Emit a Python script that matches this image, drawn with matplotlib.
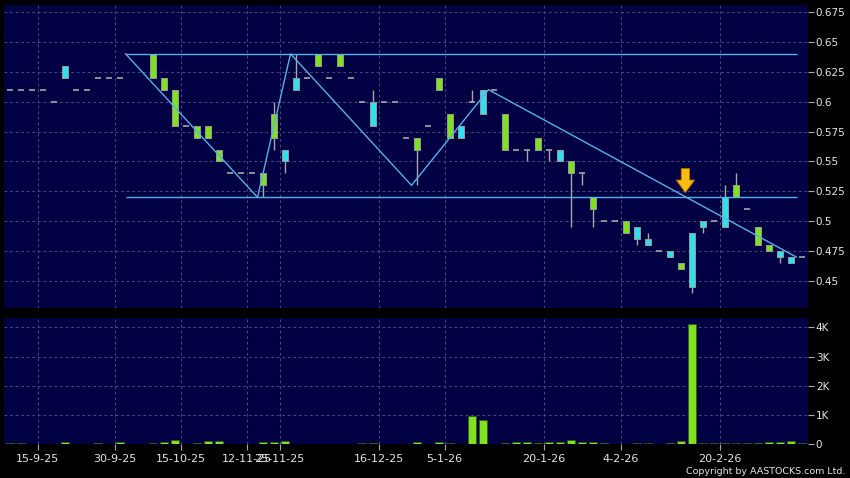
import matplotlib
matplotlib.use("Agg")
import matplotlib.pyplot as plt
import numpy as np

# ---------------- data ----------------
N = None
opens = [0.61, 0.61, 0.61, 0.61, 0.60, 0.63, 0.61, 0.61, 0.62, 0.62,
         0.62, N, N, 0.62, 0.61, 0.58, 0.58, 0.57, 0.57, 0.55,
         0.54, 0.54, 0.54, 0.53, 0.57, 0.56, 0.62, 0.62, 0.63, 0.62,
         0.63, 0.62, 0.60, 0.60, 0.60, 0.60, 0.57, 0.56, 0.58, 0.61,
         0.57, 0.58, 0.60, 0.61, 0.61, 0.56, 0.56, 0.56, 0.56, 0.56,
         0.56, 0.54, 0.54, 0.51, 0.50, 0.50, 0.49, 0.495, 0.485, 0.475,
         0.475, 0.46, 0.49, 0.50, 0.50, 0.52, 0.52, 0.51, 0.48, 0.475,
         0.475, 0.47, 0.47]
closes = [0.61, 0.61, 0.61, 0.61, 0.60, 0.62, 0.61, 0.61, 0.62, 0.62,
          0.62, N, N, 0.64, 0.62, 0.61, 0.58, 0.58, 0.58, 0.56,
          0.54, 0.54, 0.54, 0.54, 0.59, 0.55, 0.61, 0.62, 0.64, 0.62,
          0.64, 0.62, 0.60, 0.58, 0.60, 0.60, 0.57, 0.57, 0.58, 0.62,
          0.59, 0.57, 0.60, 0.59, 0.61, 0.59, 0.56, 0.56, 0.57, 0.56,
          0.55, 0.55, 0.54, 0.52, 0.50, 0.50, 0.50, 0.485, 0.48, 0.475,
          0.47, 0.465, 0.445, 0.495, 0.50, 0.495, 0.53, 0.51, 0.495, 0.48,
          0.47, 0.465, 0.47]
highs = [0.61, 0.61, 0.61, 0.61, 0.60, 0.63, 0.61, 0.61, 0.62, 0.62,
         0.62, N, N, 0.64, 0.62, 0.61, 0.58, 0.58, 0.58, 0.56,
         0.54, 0.54, 0.54, 0.54, 0.60, 0.56, 0.64, 0.62, 0.64, 0.62,
         0.64, 0.62, 0.60, 0.61, 0.60, 0.60, 0.57, 0.57, 0.58, 0.62,
         0.59, 0.58, 0.61, 0.61, 0.61, 0.59, 0.56, 0.56, 0.57, 0.56,
         0.56, 0.55, 0.54, 0.52, 0.50, 0.50, 0.50, 0.495, 0.49, 0.475,
         0.475, 0.465, 0.49, 0.50, 0.50, 0.53, 0.54, 0.51, 0.495, 0.48,
         0.475, 0.47, 0.47]
lows = [0.61, 0.61, 0.61, 0.61, 0.60, 0.62, 0.61, 0.61, 0.62, 0.62,
        0.62, N, N, 0.62, 0.61, 0.58, 0.58, 0.57, 0.57, 0.55,
        0.54, 0.54, 0.54, 0.52, 0.56, 0.54, 0.61, 0.62, 0.63, 0.62,
        0.63, 0.62, 0.60, 0.58, 0.60, 0.60, 0.57, 0.53, 0.58, 0.61,
        0.57, 0.57, 0.60, 0.59, 0.61, 0.56, 0.56, 0.55, 0.56, 0.55,
        0.55, 0.495, 0.53, 0.495, 0.50, 0.50, 0.49, 0.48, 0.48, 0.475,
        0.47, 0.46, 0.44, 0.49, 0.50, 0.495, 0.52, 0.51, 0.48, 0.475,
        0.465, 0.465, 0.47]
volumes = [30, 30, 10, 10, 10, 75, 10, 10, 45, 10,
           60, N, N, 30, 80, 130, 10, 50, 95, 95,
           10, 10, 10, 70, 60, 120, 15, 15, 15, 15,
           15, 15, 30, 40, 15, 15, 15, 80, 15, 60,
           30, 15, 970, 810, 15, 50, 70, 70, 40, 80,
           70, 140, 60, 60, 45, 15, 15, 30, 30, 15,
           40, 115, 4100, 30, 30, 30, 30, 30, 45, 70,
           80, 100, 30]

tick_pos = [2.5, 9.5, 15.5, 21.5, 24.5, 33.5, 39.5, 48.5, 55.5, 64.5]
tick_labels = ['15-9-25', '30-9-25', '15-10-25', '12-11-25', '25-11-25',
               '16-12-25', '5-1-26', '20-1-26', '4-2-26', '20-2-26']
price_ticks = [0.45, 0.475, 0.5, 0.525, 0.55, 0.575, 0.6, 0.625, 0.65, 0.675]
price_tick_labels = ['0.45', '0.475', '0.5', '0.525', '0.55', '0.575',
                     '0.6', '0.625', '0.65', '0.675']
vol_ticks = [0, 1000, 2000, 3000, 4000]
vol_tick_labels = ['0', '1K', '2K', '3K', '4K']

zigzag_x = [10.5, 22.5, 25.5, 36.5, 43.5, 71.5]
zigzag_y = [0.64, 0.52, 0.64, 0.53, 0.61, 0.47]
resistance = 0.64
support = 0.52
level_span = [10.5, 71.5]
arrow_x = 61.4
arrow_tip = 0.524
arrow_tail = 0.544

# ---------------- style ----------------
BG = '#000000'
PANEL = '#000042'
GRID = '#46467a'
GREEN = '#80e21e'
CYAN = '#2fe0ef'
EDGE = '#9a9a9a'
WICK = '#a8a8a8'
LINE = '#5ab0ea'
TXT = '#e6e6e6'

fig = plt.figure(figsize=(8.5, 4.78), dpi=100, facecolor=BG)
W, H = 850.0, 478.0
axp = fig.add_axes([4 / W, 1 - 308 / H, 803.5 / W, 303 / H], facecolor=PANEL)
axv = fig.add_axes([4 / W, 1 - 444 / H, 803.5 / W, 125.7 / H], facecolor=PANEL, sharex=axp)

n = len(opens)
bw = 0.55

for ax in (axp, axv):
    for s in ax.spines.values():
        s.set_visible(False)
    ax.grid(True, color=GRID, linestyle=(0, (2.5, 2.5)), linewidth=0.8)
    ax.set_axisbelow(True)
    ax.yaxis.tick_right()
    ax.tick_params(axis='y', colors=WICK, labelcolor=TXT, length=4, width=0.8,
                   labelsize=7.5, pad=2, direction='out')

# candles
for i in range(n):
    o, h, l, c = opens[i], highs[i], lows[i], closes[i]
    if o is None:
        continue
    if h > max(o, c) or l < min(o, c):
        axp.vlines(i, l, h, color=WICK, linewidth=1.0, zorder=2)
    if c == o:
        axp.hlines(o, i - bw / 2, i + bw / 2, color=WICK, linewidth=1.2, zorder=3)
    else:
        col = GREEN if c > o else CYAN
        axp.bar(i, abs(c - o), bottom=min(o, c), width=bw, color=col,
                edgecolor=EDGE, linewidth=0.7, zorder=3)

# pattern lines
axp.plot(zigzag_x, zigzag_y, color=LINE, linewidth=1.0, zorder=4)
axp.hlines([resistance, support], level_span[0], level_span[1], color=LINE,
           linewidth=1.0, zorder=4)

# arrow
axp.annotate('', xy=(arrow_x, arrow_tip), xytext=(arrow_x, arrow_tail),
             arrowprops=dict(arrowstyle='simple,head_width=1.1,head_length=0.75,tail_width=0.5',
                             fc='#f7bd10', ec='#c07000', lw=0.6, mutation_scale=12,
                             shrinkA=0, shrinkB=0),
             zorder=6)

axp.set_xlim(-0.55, 72.5)
axp.set_ylim(0.4275, 0.6808)
axp.set_yticks(price_ticks)
axp.set_yticklabels(price_tick_labels)
axp.set_xticks(tick_pos)
axp.tick_params(axis='x', length=0, labelbottom=False)

# volume
vx = [i for i in range(n) if volumes[i] is not None]
vv = [volumes[i] for i in vx]
vcols = [GREEN if v >= 40 else '#3a7a30' for v in vv]
axv.bar(vx, vv, width=0.8, color=vcols, edgecolor='#2c5a20', linewidth=0.5, zorder=3)
axv.set_ylim(0, 4310)
axv.set_yticks(vol_ticks)
axv.set_yticklabels(vol_tick_labels)
axv.set_xticks(tick_pos)
axv.set_xticklabels(tick_labels)
axv.tick_params(axis='x', colors=WICK, labelcolor=TXT, length=4, width=0.8,
                labelsize=8, pad=3, direction='out')
axv.set_xlim(-0.55, 72.5)

fig.text(845 / W, 1 - 471 / H, 'Copyright by AASTOCKS.com Ltd.', color=TXT,
         fontsize=6.8, ha='right', va='center')

fig.savefig('out.png', dpi=100, facecolor=BG)
